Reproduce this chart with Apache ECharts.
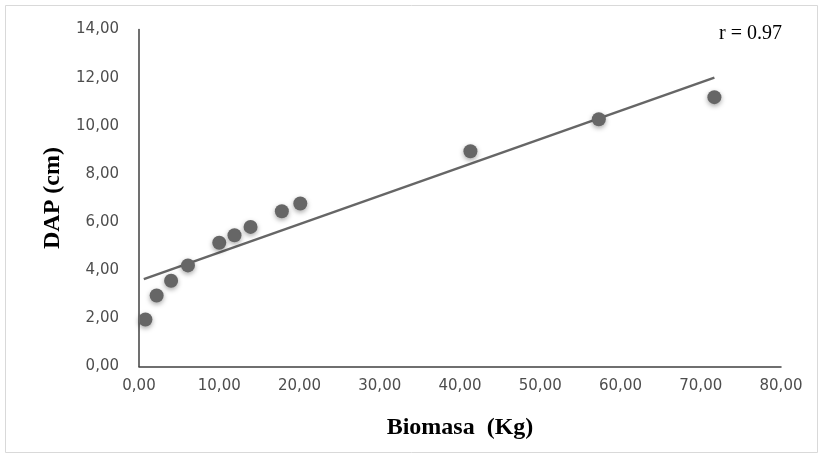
<!DOCTYPE html>
<html>
<head>
<meta charset="utf-8">
<script src="https://cdn.jsdelivr.net/npm/echarts@6/dist/echarts.min.js"></script>
<style>html,body{margin:0;padding:0;background:#fff}#c{width:821px;height:459px}</style>
</head>
<body>
<div id="c"></div>
<script>
const biomasa = [0.8, 2.2, 4.0, 6.1, 10.0, 11.9, 13.9, 17.8, 20.1, 41.3, 57.3, 71.7];
const dap = [1.95, 2.95, 3.56, 4.2, 5.14, 5.45, 5.8, 6.45, 6.77, 8.94, 10.27, 11.19];
const trendX = [0.6, 71.7];
const trendY = [3.63, 12.0];
const xTicks = [0, 80, 10];
const yTicks = [0, 14, 2];
const rLabel = 'r = 0.97';

const fmt = v => v.toFixed(2).replace('.', ',');
const chart = echarts.init(document.getElementById('c'));
chart.setOption({
  animation: false,
  backgroundColor: '#fff',
  grid: { left: 139, right: 40, top: 29.5, bottom: 92.5 },
  graphic: [
    { type: 'rect', shape: { x: 5.5, y: 5.5, width: 812, height: 447 }, style: { fill: 'none', stroke: '#d9d9d9', lineWidth: 1 }, silent: true },
    { type: 'text', left: 719, top: 24, style: { text: rLabel, font: '20px "Liberation Serif"', fill: '#000' } }
  ],
  xAxis: {
    type: 'value', min: xTicks[0], max: xTicks[1], interval: xTicks[2],
    name: 'Biomasa  (Kg)', nameLocation: 'middle', nameGap: 49,
    nameTextStyle: { fontFamily: 'Liberation Serif', fontWeight: 'bold', fontSize: 24, color: '#000' },
    axisLine: { lineStyle: { color: '#404040', width: 1.5 } },
    axisTick: { show: false }, splitLine: { show: false },
    axisLabel: { formatter: fmt, fontFamily: 'DejaVu Sans', fontSize: 15, color: '#4d4d4d', margin: 12 }
  },
  yAxis: {
    type: 'value', min: yTicks[0], max: yTicks[1], interval: yTicks[2],
    name: 'DAP (cm)', nameLocation: 'middle', nameGap: 72,
    nameTextStyle: { fontFamily: 'Liberation Serif', fontWeight: 'bold', fontSize: 24, color: '#000' },
    axisLine: { show: true, lineStyle: { color: '#404040', width: 1.5 } },
    axisTick: { show: false }, splitLine: { show: false },
    axisLabel: { formatter: fmt, fontFamily: 'DejaVu Sans', fontSize: 15, color: '#4d4d4d', margin: 20 }
  },
  series: [
    {
      type: 'line', data: trendX.map((x, i) => [x, trendY[i]]), symbol: 'none',
      lineStyle: { color: '#666666', width: 2.5 }, z: 2
    },
    {
      type: 'scatter', data: biomasa.map((x, i) => [x, dap[i]]), symbolSize: 14,
      itemStyle: { color: '#666666', shadowBlur: 5, shadowColor: 'rgba(0,0,0,0.35)', shadowOffsetY: 2, opacity: 1 }, z: 3
    }
  ]
});
</script>
</body>
</html>
